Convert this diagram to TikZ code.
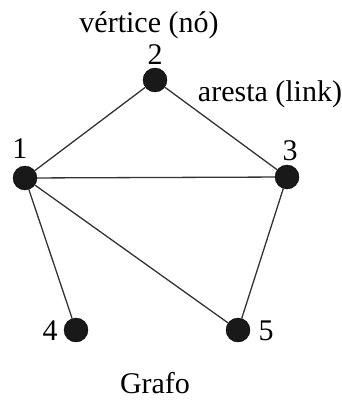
\documentclass[tikz,border=0pt]{standalone}
\usepackage{fontspec}
\setmainfont{Liberation Serif}
\begin{document}
\begin{tikzpicture}[x=1pt, y=-1pt, font=\fontsize{30}{32}\selectfont,
    vertex/.style={draw, circle, fill=black!90, minimum size=24pt, inner sep=0pt},
    txt/.style={inner sep=0pt, anchor=base}]
        \useasboundingbox (0,0) rectangle (342,401);
        \node[vertex] (v1) at (25,178) {};
        \node[vertex] (v2) at (155,80) {};
        \node[vertex] (v3) at (287,177) {};
        \node[vertex] (v4) at (76,330) {};
        \node[vertex] (v5) at (238,330) {};

        \node[txt] (title) at (149,33) {vértice (nó)};
        \node[txt] (n2) at (155,65) {2};
        \node[txt] (edge) at (270,102) {aresta (link)};
        \node[txt] (n1) at (20,158) {1};
        \node[txt] (n3) at (290,160) {3};
        \node[txt] (n4) at (50,340) {4};
        \node[txt] (n5) at (266,340) {5};
        \node[txt] (caption) at (155,393) {Grafo};

        \draw[line width=1.3pt, black!80] (v1) -- (v2);
        \draw[line width=1.3pt, black!80] (v2) -- (v3);
        \draw[line width=1.3pt, black!80] (v1) -- (v3);
        \draw[line width=1.3pt, black!80] (v1) -- (v4);
        \draw[line width=1.3pt, black!80] (v1) -- (v5);
        \draw[line width=1.3pt, black!80] (v3) -- (v5);
    \end{tikzpicture}
\end{document}
